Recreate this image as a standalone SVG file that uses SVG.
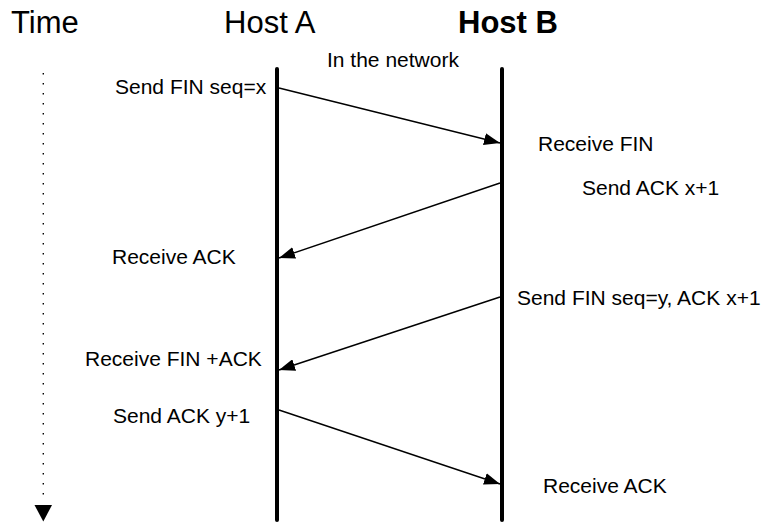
<svg xmlns="http://www.w3.org/2000/svg" width="765" height="523" viewBox="0 0 765 523">
<style>
text{font-family:"Liberation Sans",Arial,sans-serif;fill:#000}
.h{font-size:31px}
.l{font-size:21px}
.life{stroke:#000;stroke-width:4;stroke-linecap:round}
.msg{stroke:#000;stroke-width:1.4;fill:none;marker-end:url(#ah)}
</style>
<defs>
<marker id="ah" viewBox="0 0 16 12" refX="16" refY="6" markerWidth="16" markerHeight="12" markerUnits="userSpaceOnUse" orient="auto">
<path d="M0,0 L16,6 L0,12 Z" fill="#000"/>
</marker>
</defs>
<rect width="765" height="523" fill="#fff"/>
<g id="time">
<text class="h" x="11" y="33">Time</text>
<line x1="43.3" y1="73" x2="43.3" y2="503" stroke="#000" stroke-width="1.4" stroke-dasharray="1.4,8.6"/>
<path d="M34.5,505 L52,505 L43.3,521.5 Z" fill="#000"/>
</g>
<g id="hostA">
<text class="h" x="224" y="33">Host A</text>
<line class="life" x1="277" y1="69" x2="277" y2="520"/>
</g>
<g id="hostB">
<text class="h" x="458" y="33" font-weight="bold">Host B</text>
<line class="life" x1="502" y1="69" x2="502" y2="520"/>
</g>
<g id="network"><text class="l" x="327" y="67">In the network</text></g>
<g id="labels">
<text class="l" x="115" y="94">Send FIN seq=x</text>
<text class="l" x="538" y="151">Receive FIN</text>
<text class="l" x="582" y="195">Send ACK x+1</text>
<text class="l" x="112" y="264">Receive ACK</text>
<text class="l" x="517" y="305">Send FIN seq=y, ACK x+1</text>
<text class="l" x="85" y="366">Receive FIN +ACK</text>
<text class="l" x="113" y="423">Send ACK y+1</text>
<text class="l" x="543" y="493">Receive ACK</text>
</g>
<g id="connectors">
<line class="msg" x1="279" y1="88" x2="500" y2="143"/>
<line class="msg" x1="500" y1="183" x2="279" y2="258"/>
<line class="msg" x1="500" y1="297" x2="279" y2="370"/>
<line class="msg" x1="279" y1="410" x2="500" y2="484"/>
</g>
</svg>
